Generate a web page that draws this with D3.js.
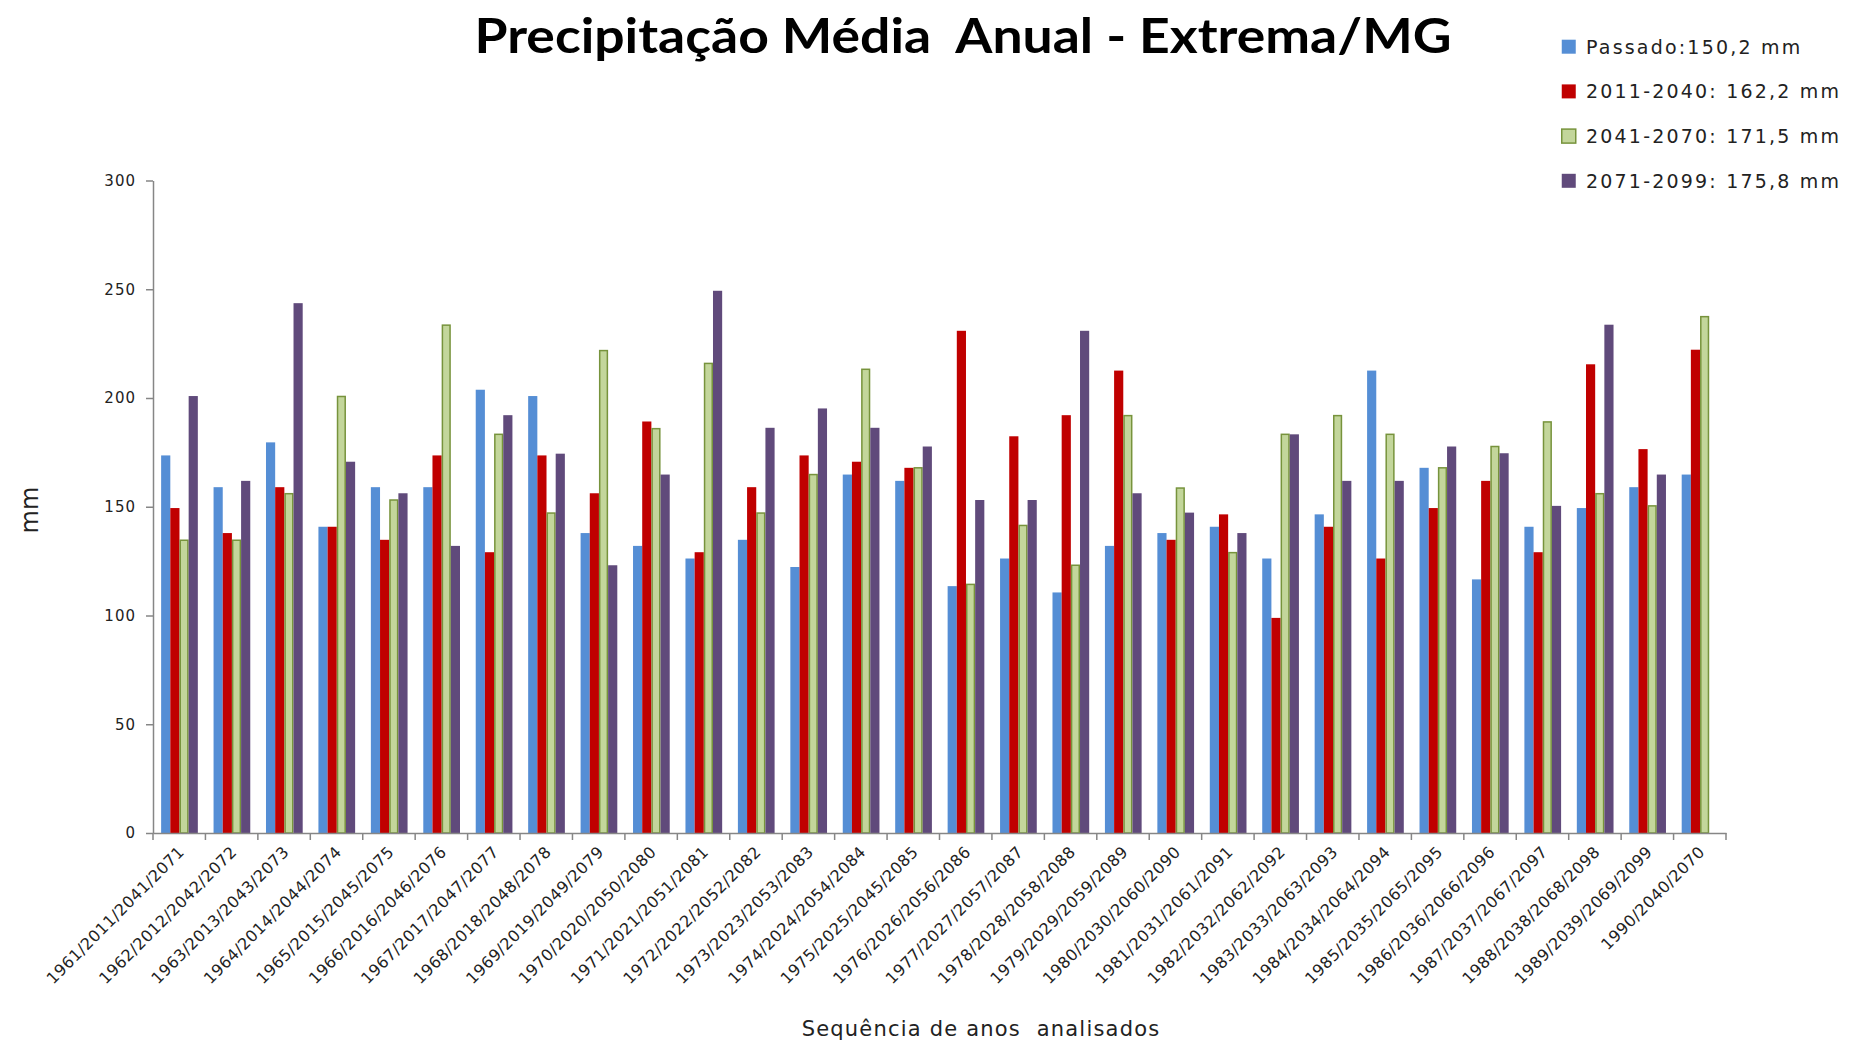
<!DOCTYPE html>
<html>

<head>
  <meta charset="utf-8" />
  <title>Precipitação Média Anual - Extrema/MG</title>
  <style>
    body {
      margin: 0;
      background: #fff;
    }

    .axis path,
    .axis line {
      stroke: #868686;
      stroke-width: 1.5px;
    }

    .axis text {
      font-family: "DejaVu Sans", sans-serif;
      fill: #222;
    }
  </style>
  <script src="https://cdnjs.cloudflare.com/ajax/libs/d3/7.8.5/d3.min.js"></script>
</head>

<body>
  <div id="chartArea"></div>
  <script>
    // data
    var categories = [
      "1961/2011/2041/2071", "1962/2012/2042/2072", "1963/2013/2043/2073",
      "1964/2014/2044/2074", "1965/2015/2045/2075", "1966/2016/2046/2076",
      "1967/2017/2047/2077", "1968/2018/2048/2078", "1969/2019/2049/2079",
      "1970/2020/2050/2080", "1971/2021/2051/2081", "1972/2022/2052/2082",
      "1973/2023/2053/2083", "1974/2024/2054/2084", "1975/2025/2045/2085",
      "1976/2026/2056/2086", "1977/2027/2057/2087", "1978/2028/2058/2088",
      "1979/2029/2059/2089", "1980/2030/2060/2090", "1981/2031/2061/2091",
      "1982/2032/2062/2092", "1983/2033/2063/2093", "1984/2034/2064/2094",
      "1985/2035/2065/2095", "1986/2036/2066/2096", "1987/2037/2067/2097",
      "1988/2038/2068/2098", "1989/2039/2069/2099", "1990/2040/2070"
    ];
    var passado = [173.6, 159.0, 179.6, 140.8, 159.0, 159.0, 203.8, 200.9, 137.9, 132.0,
      126.2, 134.8, 122.3, 164.8, 161.9, 113.5, 126.2, 110.6, 132.0, 137.9,
      140.8, 126.2, 146.5, 212.6, 167.9, 116.6, 140.8, 149.4, 159.0, 164.8];
    var p2011 = [149.4, 137.9, 159.0, 140.8, 134.8, 173.6, 129.1, 173.6, 156.2, 189.2,
      129.1, 159.0, 173.6, 170.7, 167.9, 230.9, 182.4, 192.1, 212.6, 134.8,
      146.5, 98.9, 140.8, 126.2, 149.4, 161.9, 129.1, 215.5, 176.5, 222.2];
    var p2041 = [134.6, 134.6, 156.0, 200.7, 153.1, 233.5, 183.3, 147.1, 221.8, 185.9,
      215.9, 147.1, 164.8, 213.2, 167.9, 114.3, 141.4, 123.1, 191.9, 158.6,
      128.9, 183.3, 191.9, 183.3, 167.9, 177.7, 189.0, 156.0, 150.4, 237.4];
    var p2071 = [200.9, 161.9, 243.6, 170.7, 156.2, 132.0, 192.1, 174.4, 123.1, 164.8,
      249.3, 186.3, 195.2, 186.3, 177.7, 153.1, 153.1, 230.9, 156.2, 147.3,
      137.9, 183.3, 161.9, 161.9, 177.7, 174.6, 150.4, 233.7, 164.8, null];
    var seriesNames = ["Passado:150,2 mm", "2011-2040: 162,2 mm", "2041-2070: 171,5 mm", "2071-2099: 175,8 mm"];
    var yTicks = [0, 50, 100, 150, 200, 250, 300];

    var fills = ["#558ed5", "#c00000", "#c3d69b", "#604a7b"];
    var strokes = ["none", "none", "#77933c", "none"];

    var W = 1850, H = 1043;
    // plot box (note: "top" is a reserved window prop, so use other names)
    var plotLeft = 153, plotRight = 1726, plotTop = 180.5, plotBottom = 833;

    var allSeries = [passado, p2011, p2041, p2071];
    var rows = categories.map((c, i) => ({
      cat: c,
      vals: allSeries.map((s, k) => ({ k: k, v: s[i] }))
    }));

    var svg = d3.select('#chartArea')
      .append('svg')
      .attr('width', W)
      .attr('height', H);

    var x0 = d3.scaleBand()
      .domain(categories)
      .range([plotLeft, plotRight]);

    var x1 = d3.scaleBand()
      .domain([0, 1, 2, 3])
      .range([x0.bandwidth() * 0.155, x0.bandwidth() * 0.855]);

    var y = d3.scaleLinear()
      .domain([0, 300])
      .range([plotBottom, plotTop]);

    // bars
    var groups = svg.append('g')
      .selectAll('g')
      .data(rows)
      .enter().append('g')
      .attr('transform', d => 'translate(' + x0(d.cat) + ',0)');

    groups.selectAll('rect')
      .data(d => d.vals.filter(e => e.v != null))
      .enter().append('rect')
      .attr('x', e => x1(e.k) + (e.k == 2 ? 0.75 : 0))
      .attr('y', e => y(e.v))
      .attr('width', e => x1.bandwidth() - (e.k == 2 ? 1.5 : 0))
      .attr('height', e => y(0) - y(e.v))
      .attr('fill', e => fills[e.k])
      .attr('stroke', e => strokes[e.k])
      .attr('stroke-width', 1.5);

    // y axis
    var yAxis = svg.append('g')
      .attr('class', 'axis')
      .attr('transform', 'translate(' + plotLeft + ',0)')
      .call(d3.axisLeft(y).tickValues(yTicks).tickSize(7).tickPadding(10).tickSizeOuter(0));
    yAxis.selectAll('text')
      .style('font-size', '15px')
      .style('letter-spacing', '1px');

    // x axis, ticks sit between the groups
    var xAxis = svg.append('g')
      .attr('class', 'axis')
      .attr('transform', 'translate(0,' + plotBottom + ')')
      .call(d3.axisBottom(x0).tickSize(0).tickSizeOuter(0).tickFormat(''));
    xAxis.selectAll('.tick').remove();

    var bounds = categories.map(c => x0(c)).concat([plotRight]);
    xAxis.selectAll('.sep')
      .data(bounds)
      .enter().append('line')
      .attr('class', 'sep')
      .attr('x1', d => d).attr('x2', d => d)
      .attr('y1', 0).attr('y2', 7);

    xAxis.selectAll('.lbl')
      .data(categories)
      .enter().append('text')
      .attr('class', 'lbl')
      .attr('text-anchor', 'end')
      .attr('transform', d => 'translate(' + (x0(d) + x0.bandwidth() / 2 + 6) + ',20) rotate(-45)')
      .style('font-size', '16px')
      .style('letter-spacing', '0.4px')
      .text(d => d);

    // titles
    svg.append('text')
      .attr('x', 963)
      .attr('y', 53)
      .attr('text-anchor', 'middle')
      .attr('textLength', 977)
      .attr('lengthAdjust', 'spacingAndGlyphs')
      .style('font-family', 'Lato, "Open Sans", sans-serif')
      .style('font-weight', 'bold')
      .style('font-size', '47px')
      .style('white-space', 'pre')
      .text('Precipitação Média  Anual - Extrema/MG');

    svg.append('text')
      .attr('x', 981)
      .attr('y', 1036)
      .attr('text-anchor', 'middle')
      .style('font-family', '"DejaVu Sans", sans-serif')
      .style('font-size', '21px')
      .style('letter-spacing', '1.2px')
      .style('fill', '#222')
      .style('white-space', 'pre')
      .text('Sequência de anos  analisados');

    svg.append('text')
      .attr('transform', 'translate(38,510) rotate(-90)')
      .attr('text-anchor', 'middle')
      .style('font-family', '"DejaVu Sans", sans-serif')
      .style('font-size', '24px')
      .style('fill', '#222')
      .text('mm');

    // legend
    var legend = svg.append('g')
      .selectAll('g')
      .data(seriesNames)
      .enter().append('g')
      .attr('transform', (d, i) => 'translate(1561,' + (46.7 + i * 44.7) + ')');

    legend.append('rect')
      .attr('x', 0.75)
      .attr('y', -7)
      .attr('width', 14)
      .attr('height', 14)
      .attr('fill', (d, i) => fills[i])
      .attr('stroke', (d, i) => strokes[i])
      .attr('stroke-width', 1.5);

    legend.append('text')
      .attr('x', 25)
      .attr('y', 7)
      .style('font-family', '"DejaVu Sans", sans-serif')
      .style('font-size', '19px')
      .style('letter-spacing', '2.2px')
      .style('fill', '#222')
      .text(d => d);
  </script>
</body>

</html>
